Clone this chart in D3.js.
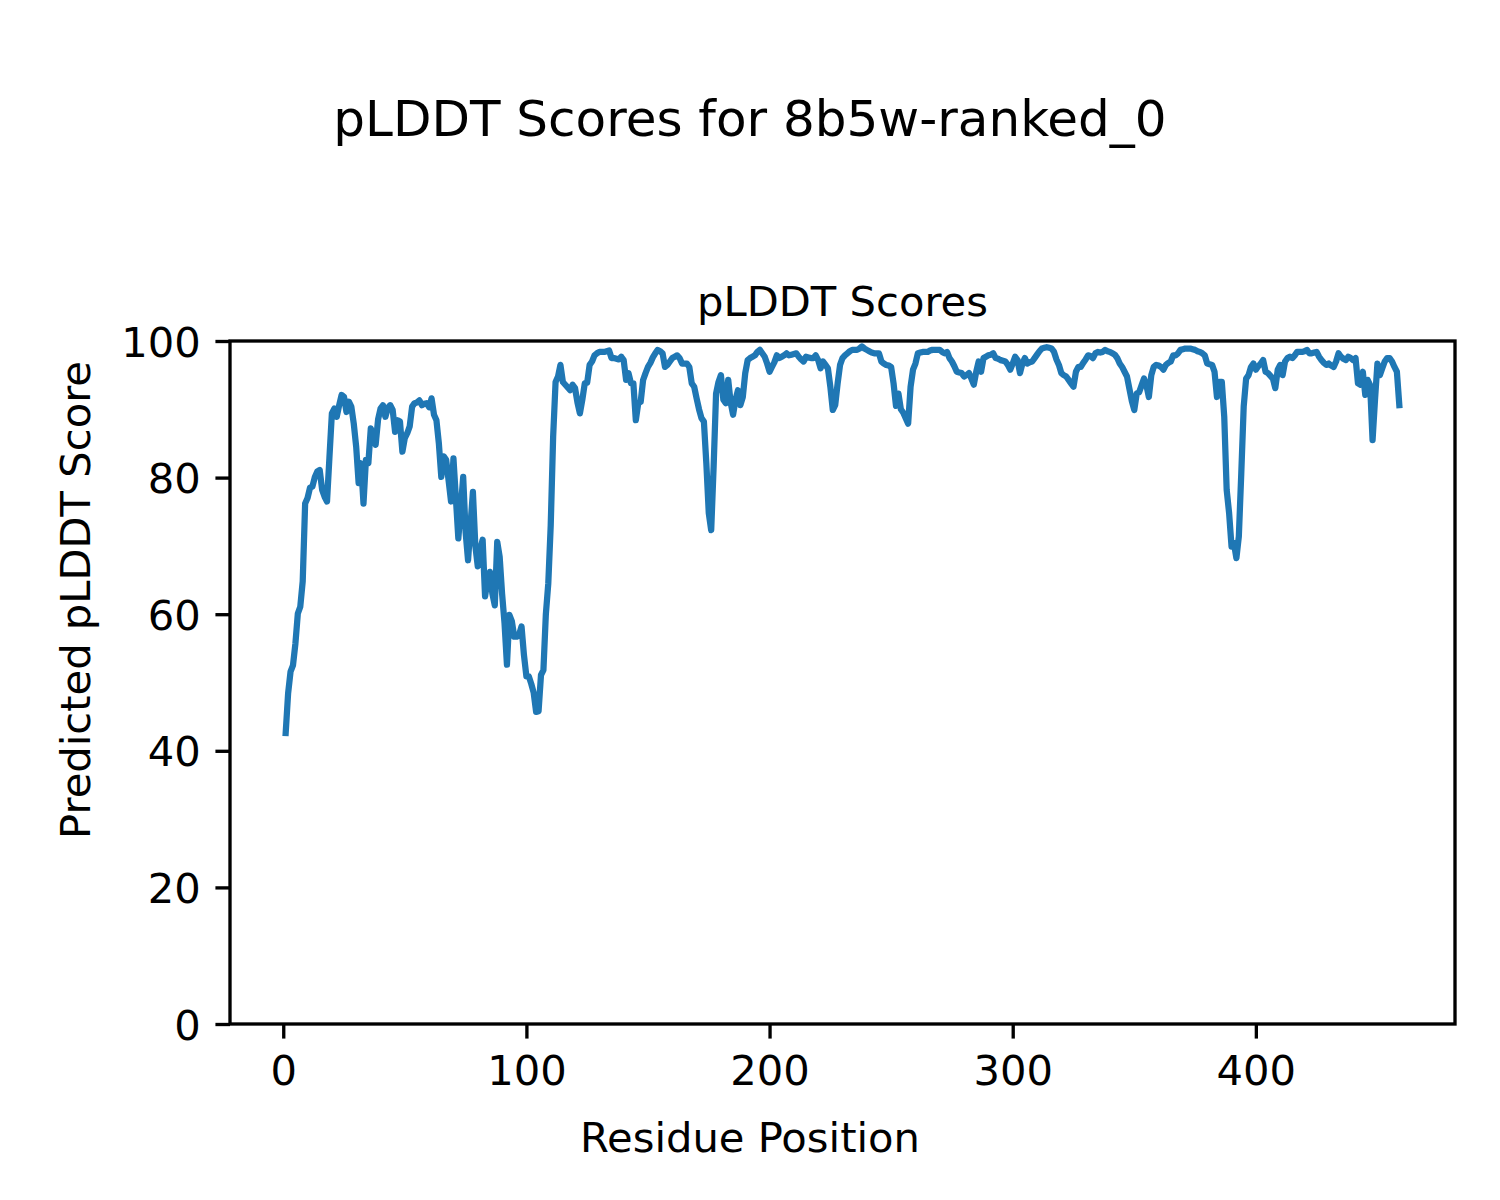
<!DOCTYPE html>
<html>
<head>
<meta charset="utf-8">
<script src="https://cdn.jsdelivr.net/npm/d3@7"></script>
<style>
  html, body { margin: 0; padding: 0; background: #fff; }
  svg text { font-family: "DejaVu Sans", sans-serif; fill: #000; }
</style>
</head>
<body>
<svg id="chart" width="1500" height="1200"></svg>
<script>
const figureTitle = "pLDDT Scores for 8b5w-ranked_0";
const axesTitle = "pLDDT Scores";
const xLabel = "Residue Position";
const yLabel = "Predicted pLDDT Score";
const xTicks = [0, 100, 200, 300, 400];
const yTicks = [0, 20, 40, 60, 80, 100];
const firstResidue = 1;
const plddt = [
42.6,48.4,51.6,52.5,55.7,60.1,61.1,64.8,76.2,77.0,
78.5,78.7,80.1,80.9,81.1,78.2,77.2,76.5,83.0,89.4,
90.1,88.9,90.6,92.1,91.8,89.6,91.1,90.4,87.9,84.5,
79.2,82.1,76.2,82.6,82.1,87.2,86.0,84.8,88.5,90.1,
90.6,88.9,90.2,90.6,89.9,86.7,88.4,88.2,83.8,85.8,
86.5,87.5,90.4,90.9,91.0,91.3,90.6,90.8,90.9,90.3,
91.6,89.2,88.4,85.0,80.1,83.1,82.6,79.6,76.5,82.8,
77.0,71.1,75.5,80.1,72.0,67.9,73.0,77.9,70.0,67.0,
69.5,70.9,62.6,65.0,66.2,63.0,61.3,70.6,68.4,63.0,
58.7,52.6,59.9,59.0,56.7,56.7,57.0,58.2,54.0,50.9,
50.9,49.8,48.5,45.7,45.8,51.1,51.8,60.0,64.5,73.0,
86.0,94.0,94.8,96.5,94.0,93.6,93.2,92.8,93.6,93.1,
91.0,89.4,91.4,93.8,93.9,96.5,97.0,97.9,98.2,98.4,
98.4,98.4,98.5,98.6,97.5,97.5,97.4,97.3,97.7,97.2,
94.3,95.3,93.8,93.8,88.4,90.9,91.1,94.3,95.3,96.2,
96.8,97.6,98.2,98.7,98.5,98.2,96.2,96.5,97.0,97.5,
97.7,97.9,97.5,96.7,96.7,96.7,96.2,93.8,93.3,91.6,
90.0,88.7,88.2,82.1,74.8,72.3,81.6,92.3,94.0,95.0,
91.4,90.9,94.3,91.0,89.2,91.4,92.8,90.6,91.8,95.3,
97.2,97.5,97.7,97.9,98.4,98.7,98.2,97.7,96.7,95.5,
96.2,96.9,97.9,97.5,97.7,97.9,98.2,97.9,98.0,98.1,
98.2,97.7,97.3,97.0,97.7,97.6,97.5,97.5,97.9,97.2,
96.0,97.0,96.5,96.0,93.3,89.9,90.6,93.8,96.5,97.5,
97.9,98.2,98.5,98.7,98.7,98.7,98.9,99.2,98.9,98.7,
98.5,98.3,98.2,98.2,98.2,97.0,96.7,96.5,96.4,96.2,
93.8,90.5,92.3,90.0,89.5,88.7,87.9,93.3,95.8,96.7,
98.2,98.3,98.4,98.4,98.4,98.6,98.7,98.7,98.7,98.7,
98.4,98.2,98.4,97.5,97.0,96.3,95.5,95.4,95.3,94.8,
95.0,95.3,94.5,93.6,95.5,97.0,95.5,97.5,97.7,97.9,
98.0,98.2,97.5,97.4,97.2,97.1,97.0,96.5,95.8,96.7,
97.7,97.2,95.3,96.7,97.5,96.7,96.9,97.0,97.5,98.0,
98.5,98.9,99.0,99.1,99.0,98.9,98.4,97.3,96.5,95.3,
95.0,94.8,94.3,93.8,93.3,95.5,96.2,96.2,96.8,97.3,
97.9,97.8,97.5,98.2,98.4,98.3,98.4,98.7,98.5,98.4,
98.2,98.0,97.5,96.7,96.2,95.5,94.8,93.0,91.2,89.9,
92.3,92.5,93.5,94.5,93.5,91.8,95.0,96.2,96.5,96.4,
96.2,95.8,96.5,96.8,97.0,97.9,97.9,98.2,98.7,98.8,
98.9,98.9,98.9,98.8,98.7,98.5,98.4,98.2,97.9,96.7,
96.6,96.5,95.5,91.8,94.0,94.0,88.9,78.2,74.8,69.9,
70.4,68.2,71.4,80.6,90.4,94.5,95.0,96.2,96.7,95.8,
96.3,96.7,97.2,95.5,95.3,94.9,94.5,93.1,95.8,96.5,
95.0,97.0,97.5,97.7,97.5,97.9,98.4,98.4,98.4,98.5,
98.7,98.2,98.2,98.3,98.4,97.7,97.2,96.8,96.5,96.7,
96.4,96.2,97.0,98.2,97.7,97.4,97.2,97.7,97.5,97.2,
97.5,93.8,93.6,95.5,92.1,94.3,93.5,85.5,91.4,96.7,
95.0,96.0,97.0,97.5,97.5,97.0,96.2,95.5,90.6
];

const data = plddt.map((v, i) => ({ x: firstResidue + i, y: v }));

const svg = d3.select("#chart");
const mLeft = 230, mRight = 1455, mTop = 341, mBottom = 1024;
const pt = 300 / 72;

const xMin = d3.min(data, d => d.x), xMax = d3.max(data, d => d.x);
const pad = (xMax - xMin) * 0.05;
const x = d3.scaleLinear().domain([xMin - pad, xMax + pad]).range([mLeft, mRight]);
const y = d3.scaleLinear().domain([0, 100]).range([mBottom, mTop]);

// line
const line = d3.line().x(d => x(d.x)).y(d => y(d.y));
svg.append("path")
  .datum(data)
  .attr("d", line)
  .attr("fill", "none")
  .attr("stroke", "#1f77b4")
  .attr("stroke-width", 1.5 * pt)
  .attr("stroke-linejoin", "round")
  .attr("stroke-linecap", "square");

// axes
const fs = 10 * pt;
const xAxis = d3.axisBottom(x).tickValues(xTicks).tickSize(3.5 * pt).tickPadding(3.5 * pt).tickFormat(d3.format("d"));
const yAxis = d3.axisLeft(y).tickValues(yTicks).tickSize(3.5 * pt).tickPadding(3.5 * pt).tickFormat(d3.format("d"));

const gx = svg.append("g").attr("transform", `translate(0,${mBottom})`).call(xAxis);
const gy = svg.append("g").attr("transform", `translate(${mLeft},0)`).call(yAxis);
[gx, gy].forEach(g => {
  g.select(".domain").remove();
  g.selectAll(".tick line").attr("stroke", "#000").attr("stroke-width", 0.8 * pt);
  g.selectAll(".tick text").attr("font-size", fs).attr("font-family", "DejaVu Sans").attr("fill", "#000");
});
gx.selectAll(".tick text").attr("dy", "0.76em");
gy.selectAll(".tick text").attr("dy", "0.36em");

// frame
svg.append("rect")
  .attr("x", mLeft).attr("y", mTop)
  .attr("width", mRight - mLeft).attr("height", mBottom - mTop)
  .attr("fill", "none").attr("stroke", "#000").attr("stroke-width", 0.8 * pt);

// titles
svg.append("text").attr("x", 750).attr("y", 136).attr("text-anchor", "middle")
  .attr("font-size", 12 * pt).text(figureTitle);
svg.append("text").attr("x", (mLeft + mRight) / 2).attr("y", mTop - 6 * pt).attr("text-anchor", "middle")
  .attr("font-size", fs).text(axesTitle);
svg.append("text").attr("x", 750).attr("y", 1152).attr("text-anchor", "middle")
  .attr("font-size", fs).text(xLabel);
svg.append("text").attr("transform", `translate(90,600) rotate(-90)`).attr("text-anchor", "middle")
  .attr("font-size", fs).text(yLabel);
</script>
</body>
</html>
